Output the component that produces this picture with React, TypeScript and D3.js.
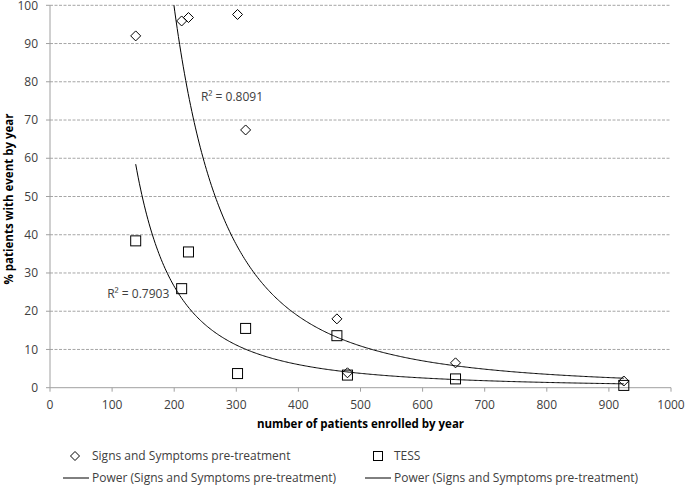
import React from "react";
import * as d3 from "d3";

const patients = [138, 212, 223, 302, 315, 462, 479, 653, 924];
const signsSymptoms = [92.0, 95.9, 96.8, 97.6, 67.4, 18.0, 3.9, 6.5, 1.75];
const tess = [38.4, 25.9, 35.5, 3.7, 15.5, 13.6, 3.3, 2.3, 0.6];
const xTicks = [0, 100, 200, 300, 400, 500, 600, 700, 800, 900, 1000];
const yTicks = [0, 10, 20, 30, 40, 50, 60, 70, 80, 90, 100];
const r2Labels = ["R\u00B2 = 0.8091", "R\u00B2 = 0.7903"];
const legendLabels = [
  "Signs and Symptoms pre-treatment",
  "TESS",
  "Power (Signs and Symptoms pre-treatment)",
  "Power (Signs and Symptoms pre-treatment)",
];
const xTitle = "number of patients enrolled by year";
const yTitle = "% patients with event by year";

function powerFit(xs: number[], ys: number[]) {
  const lx = xs.map(Math.log);
  const ly = ys.map(Math.log);
  const mx = d3.mean(lx)!;
  const my = d3.mean(ly)!;
  let sxy = 0, sxx = 0;
  lx.forEach((v, i) => {
    sxy += (v - mx) * (ly[i] - my);
    sxx += (v - mx) * (v - mx);
  });
  const b = sxy / sxx;
  const a = Math.exp(my - b * mx);
  return (x: number) => a * Math.pow(x, b);
}

export default function App() {
  const W = 685, H = 487;
  const x = d3.scaleLinear().domain([0, 1000]).range([50, 671]);
  const y = d3.scaleLinear().domain([0, 100]).range([387.7, 5.3]);
  const font = "'Open Sans', sans-serif";
  const fSS = powerFit(patients, signsSymptoms);
  const fT = powerFit(patients, tess);
  const xMin = d3.min(patients)!, xMax = d3.max(patients)!;
  const samples = d3.range(0, 401).map((i) => xMin + ((xMax - xMin) * i) / 400);
  const line = d3
    .line<[number, number]>()
    .x((d) => x(d[0]))
    .y((d) => y(Math.min(d[1], 140)));
  const pathSS = line(samples.map((s) => [s, fSS(s)] as [number, number]))!;
  const pathT = line(samples.map((s) => [s, fT(s)] as [number, number]))!;
  const txt = "#404040";
  const diamond = (cx: number, cy: number, r: number) =>
    `M${cx},${cy - r}L${cx + r},${cy}L${cx},${cy + r}L${cx - r},${cy}Z`;

  return (
    <svg width={W} height={H} style={{ position: "absolute", left: 0, top: 0, background: "#fff" }}>
      <defs>
        <clipPath id="plot">
          <rect x={x(0)} y={y(100)} width={x(1000) - x(0)} height={y(0) - y(100)} />
        </clipPath>
      </defs>
      {yTicks.filter((t) => t > 0).map((t) => (
        <line key={"g" + t} x1={x(0)} x2={x(1000)} y1={y(t)} y2={y(t)}
          stroke="#a6a6a6" strokeWidth={1} strokeDasharray="3,1.5" />
      ))}
      <line x1={x(0)} x2={x(0)} y1={y(0)} y2={y(100)} stroke="#a0a0a0" />
      <line x1={x(0)} x2={x(1000)} y1={y(0)} y2={y(0)} stroke="#a0a0a0" />
      {yTicks.map((t) => (
        <g key={"y" + t}>
          <line x1={x(0) - 4} x2={x(0)} y1={y(t)} y2={y(t)} stroke="#a0a0a0" />
          <text x={38} y={y(t)} dy="0.35em" textAnchor="end" fontFamily={font} fontSize={12} fill={txt}>{t}</text>
        </g>
      ))}
      {xTicks.map((t) => (
        <g key={"x" + t}>
          <line x1={x(t)} x2={x(t)} y1={y(0)} y2={y(0) + 4} stroke="#a0a0a0" />
          <text x={x(t)} y={405} dy="0.35em" textAnchor="middle" fontFamily={font} fontSize={12} fill={txt}>{t}</text>
        </g>
      ))}
      <text x={(x(0) + x(1000)) / 2} y={424} dy="0.35em" textAnchor="middle" fontFamily={font} fontSize={11.5} fontWeight="bold" fill="#000">{xTitle}</text>
      <text transform={`translate(9,${199}) rotate(-90)`} dy="0.35em" textAnchor="middle" fontFamily={font} fontSize={11.5} fontWeight="bold" fill="#000">{yTitle}</text>

      <g clipPath="url(#plot)">
        <path d={pathSS} fill="none" stroke="#000" strokeWidth={1} />
        <path d={pathT} fill="none" stroke="#000" strokeWidth={1} />
      </g>

      {patients.map((p, i) => (
        <rect key={"t" + i} x={x(p) - 5} y={y(tess[i]) - 5} width={10} height={10} fill="none" stroke="#000" strokeWidth={1} />
      ))}
      {patients.map((p, i) => (
        <path key={"d" + i} d={diamond(x(p), y(signsSymptoms[i]), 5)} fill="none" stroke="#000" strokeWidth={1} />
      ))}

      <text x={x(243)} y={y(76)} dy="0.35em" fontFamily={font} fontSize={12} fill={txt}>{r2Labels[0]}</text>
      <text x={x(92)} y={y(24.5)} dy="0.35em" fontFamily={font} fontSize={12} fill={txt}>{r2Labels[1]}</text>

      <path d={diamond(75, 456, 4.5)} fill="none" stroke="#000" />
      <text x={92} y={456} dy="0.35em" fontFamily={font} fontSize={12} fill={txt}>{legendLabels[0]}</text>
      <rect x={373.5} y={451.5} width={9} height={9} fill="none" stroke="#000" />
      <text x={394} y={456} dy="0.35em" fontFamily={font} fontSize={12} fill={txt}>{legendLabels[1]}</text>
      <line x1={63} x2={89} y1={478} y2={478} stroke="#000" />
      <text x={92} y={478} dy="0.35em" fontFamily={font} fontSize={12} fill={txt}>{legendLabels[2]}</text>
      <line x1={365} x2={391} y1={478} y2={478} stroke="#000" />
      <text x={394} y={478} dy="0.35em" fontFamily={font} fontSize={12} fill={txt}>{legendLabels[3]}</text>
    </svg>
  );
}
